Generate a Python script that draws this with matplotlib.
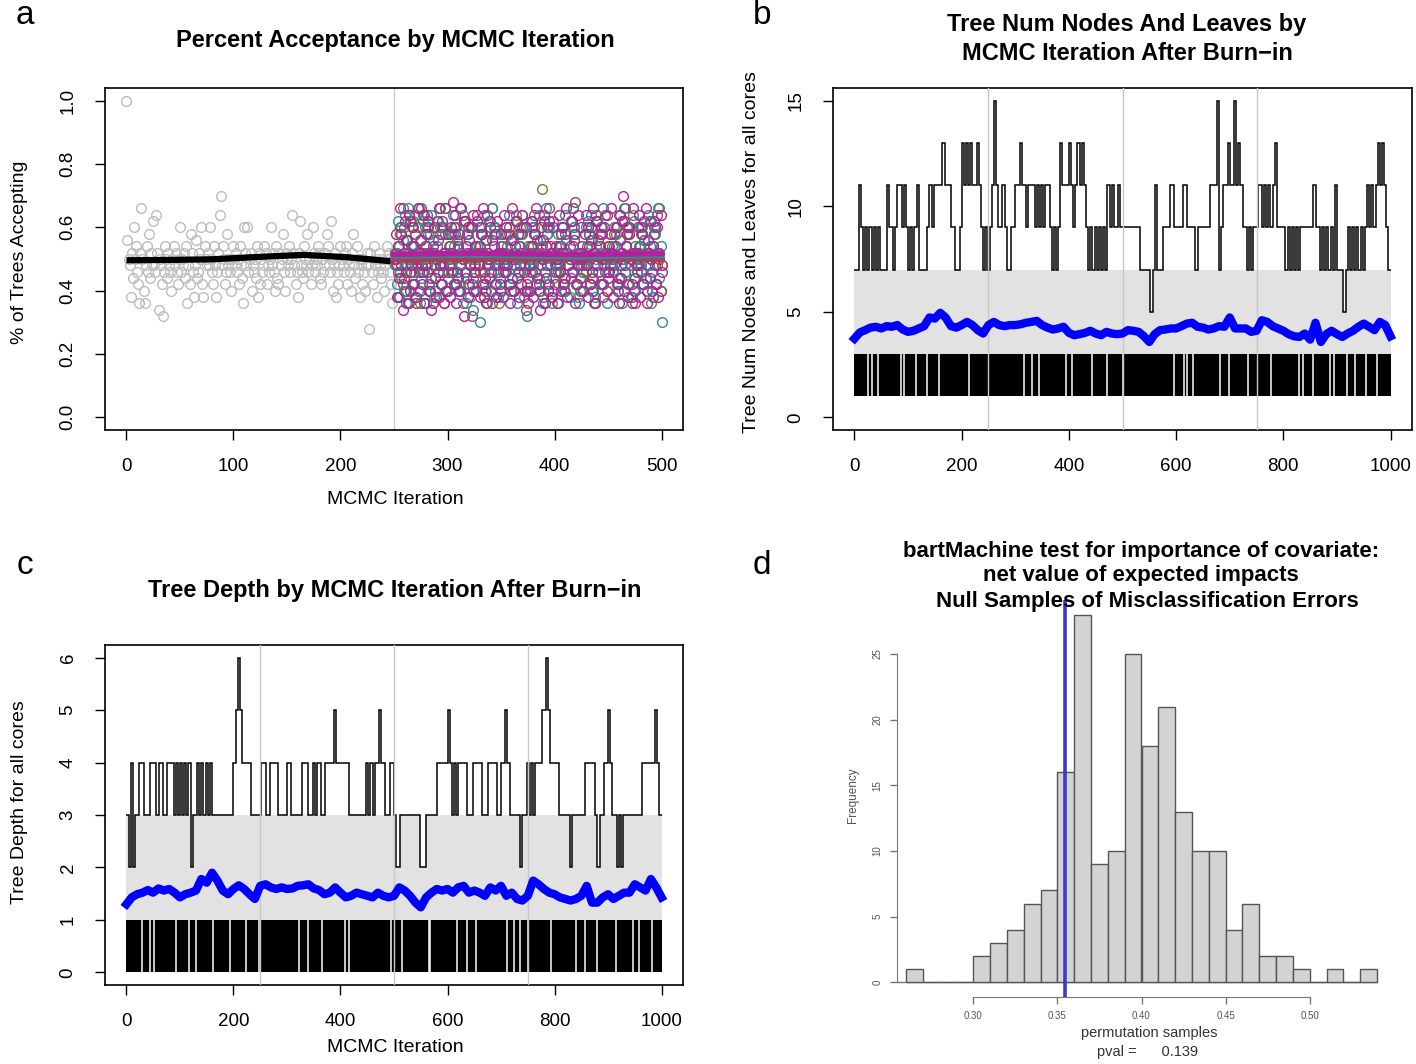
import numpy as np
import matplotlib.pyplot as plt

plt.rcParams['font.family'] = ['Liberation Sans', 'DejaVu Sans']

W, H = 1416, 1064

# ---------------- panel a: percent acceptance ----------------
# letters a..w stand for 0.28 .. 0.72 in steps of 0.02 (one letter per iteration)
LEVELS = "abcdefghijklmnopqrstuvw"
accept_first = 1.0
accept_burn = ("olkfmiqlnjhemtlgeknjpimkr" "kjsmdlkhcjnlimkjglnkmjhlq"
               "jlkminekhpmjfkoijmlqhfnlk" "mkqljhnkfjmsvknlhjpkljgln"
               "kmjlhnkieqmkqjlmgkjlinfmh" "ljknmhkjlqkmjgnihmklpjgml"
               "knjlsmkhjfmrkjinlkpjlhkqm" "jlknmihljkmpnkjrlgkmfjhkn"
               "lkjmnhlkjgmpkinjlfkhljgkm" "kamjhnklfjmkiljgknlmjhel")
accept_olive = ("lkmfnpitqkgolejrknhpsqmek" "jmsnkqphgiemklrjfqhpkmtgi"
                "nkjmplqhoigkmsrjephqkmlgj" "klmnjqphfgomkrljtpqhkmeig"
                "mjlkqnphgiokmsrjnqhpfmlgn" "lknjmqphoigkwlrjnpqhkmeik"
                "jmlnkpqhigomklrjtqphkfmgi" "nkljmqphogiemlrjnpqhkslgj"
                "lmknjqphgiokmlrjnqhpfmsin" "kjmlnpqhoigmkrejnpqhkmtgk")
accept_red = ("mlkjfqphigokmsrjnqhpeklgt" "kjmlnsqhgiemklrjfphqkmtgj"
              "lnkmjqphoigkmlrjnpqhkmcik" "jmsknqphfiokmlrjeqhpkmlgn"
              "nlkjmpqhoigmkrljnphqkmdgi" "kmljnsphigokmfrjnqhtkmlgj"
              "lkjmnpqhgiomklrjnpuhkmlik" "mjlknqphoigkesrjnqphkmlgn"
              "nkmljpqhgiokmlrtnqhpkemgi" "ljkmnqphoigmkrljfpqhsmlgk")
accept_teal = ("kmhrfjqogsektmlnhrjfmgtoi" "lrjqekmhpsofglnrjtkhqeplg"
               "mkpjsnhqigotkelrjnphfmqdg" "jlnqbphmsogelkrjtqphlfkig"
               "nkmpjlshgiomkreljnpsqkmcg" "ljrqkpmhosgkneljtphqkfmrj"
               "kepljnqhgsomkfrjtqphkmelg" "njlqkrphsogkfnrjmqhtklmej"
               "lkpmjnqhgsokeltjnpqhkfmrg" "mjlnqkphoigsknrjfqphmtinb")
accept_magenta = ("lpfnitkdmrjoesgkqhnlftjmo" "hsekpjrgmdnqiflotkhrjemgp"
                  "kfqmuhsejnpgtlcrimfokqhsj" "ngrkfpmtjhesliqgonkfrjmhp"
                  "mfsjqkheotlgnripfkmsjgqhe" "kgnrfpjtmhdqloseikgrnmfqh"
                  "nlesjgmqhptfknirjoelhskmq" "lgpskfnhqjtmerkophlfqjmsi"
                  "jptmfknqhesirvgknpfqlhtme" "mkqsfjphrteomilgnrkhqfmsj")
core_series = [accept_olive, accept_red, accept_teal, accept_magenta]
core_colors = ["#7c7a3c", "#a8404f", "#2f8c98", "#b4209e"]
burn_fit_x = [0, 40, 80, 120, 165, 205, 250]
burn_fit_y = [0.496, 0.497, 0.499, 0.506, 0.513, 0.506, 0.492]
core_fit_x = [250, 330, 420, 500]
core_fit_y = [[0.505, 0.503, 0.507, 0.505], [0.498, 0.500, 0.502, 0.500],
              [0.510, 0.512, 0.508, 0.511], [0.515, 0.518, 0.514, 0.517]]

# ---------------- panel b: nodes and leaves ----------------
# max over trees, one hex digit per 4 iterations
nodes_max = ("77b9797979797" "77b9979bb9b9"
             "7979b77779b9bbbbdbbb99779"
             "dbdbdbbdb97979bfb99b97799"
             "bbdbb9bbb9b9b9bb97979dbbb"
             "db9bdbdb9797979797b9b99b9"
             "9999999977777" "57b777999bb9"
             "999bb99997999999bbbf79bbd"
             "bbfbdb9979799bb9b9b9bd999"
             "97979797999999b997979797b"
             "77757979797979b9b9bdbdb97")
nodes_min_gaps = [26, 33, 44, 86, 93, 115, 136, 157, 214, 317, 331, 345, 394,
                  405, 444, 472, 501, 596, 614, 621, 632, 681, 699, 734, 777,
                  830, 837, 855, 887, 894, 918, 933, 954, 975]
nodes_avg = [3.73, 4.02, 4.13, 4.25, 4.29, 4.21, 4.32, 4.29, 4.37, 4.16,
             4.05, 4.10, 4.21, 4.32, 4.73, 4.68, 4.95, 4.73, 4.32, 4.25,
             4.37, 4.52, 4.37, 4.13, 3.97, 4.37, 4.52, 4.37, 4.32, 4.37,
             4.37, 4.41, 4.48, 4.52, 4.57, 4.37, 4.25, 4.16, 4.21, 4.29,
             4.00, 3.89, 3.94, 4.00, 4.10, 3.97, 3.89, 4.05, 3.97, 3.94,
             3.97, 4.13, 4.10, 4.05, 3.84, 3.57, 3.94, 4.13, 4.16, 4.21,
             4.21, 4.32, 4.44, 4.48, 4.29, 4.25, 4.16, 4.21, 4.32, 4.29,
             4.73, 4.21, 4.21, 4.21, 4.05, 4.10, 4.60, 4.52, 4.32, 4.21,
             4.10, 3.94, 3.84, 3.81, 3.97, 3.68, 4.48, 3.57, 3.94, 4.10,
             3.94, 3.81, 3.97, 4.10, 4.29, 4.44, 4.29, 4.13, 4.52, 4.37,
             3.84]

# ---------------- panel c: tree depth ----------------
depth_max = ("3242" "33" "44" "333" "444" "3" "44" "33" "444343"
             "43434" "2" "33" "4343434" "3333333333"
             "4" "5" "6" "5" "4444" "33333" "44334444" "3333"
             "44" "33333" "444" "33" "434" "433" "4444" "5" "44"
             "4444" "33333333" "434344" "5" "44" "33" "44"
             "3" "22" "333333333" "222" "33333" "44444"
             "5" "43434444" "333" "4444" "333" "4444" "33"
             "44" "5" "4" "33333" "2" "33" "43434" "44" "5" "5" "6" "5" "44"
             "44" "33333" "2" "333333" "44444" "3" "2" "33" "44"
             "5" "4" "33" "2323" "33333333" "444444" "5" "4" "3")
depth_min_gaps = [29, 44, 51, 92, 117, 130, 162, 194, 223, 248, 322, 340, 365,
                  408, 415, 494, 515, 565, 568, 618, 636, 654, 711, 725, 736,
                  750, 793, 840, 857, 879, 914, 947, 957, 982]
depth_avg = [1.30, 1.43, 1.49, 1.52, 1.57, 1.52, 1.60, 1.56, 1.59, 1.52,
             1.43, 1.49, 1.52, 1.56, 1.78, 1.71, 1.90, 1.75, 1.56, 1.49,
             1.59, 1.66, 1.59, 1.49, 1.40, 1.65, 1.68, 1.62, 1.59, 1.62,
             1.59, 1.60, 1.65, 1.66, 1.68, 1.60, 1.57, 1.49, 1.52, 1.62,
             1.52, 1.43, 1.46, 1.52, 1.49, 1.46, 1.43, 1.52, 1.46, 1.43,
             1.46, 1.62, 1.56, 1.46, 1.33, 1.24, 1.43, 1.52, 1.59, 1.56,
             1.59, 1.52, 1.62, 1.65, 1.52, 1.56, 1.52, 1.46, 1.62, 1.56,
             1.65, 1.46, 1.52, 1.40, 1.37, 1.46, 1.75, 1.68, 1.59, 1.52,
             1.49, 1.43, 1.40, 1.37, 1.40, 1.46, 1.65, 1.33, 1.33, 1.43,
             1.49, 1.40, 1.46, 1.52, 1.52, 1.68, 1.62, 1.56, 1.78, 1.62,
             1.43]
core_breaks = [250, 500, 750]

# ---------------- panel d: permutation histogram ----------------
hist_left = 0.26
hist_width = 0.01
hist_counts = [1, 0, 0, 0, 2, 3, 4, 6, 7, 16, 28, 9, 10, 25, 18, 21, 13, 10,
               10, 4, 6, 2, 2, 1, 0, 1, 0, 1]
observed_error = 0.3547
pval = 0.139


fig = plt.figure(figsize=(W / 100, H / 100), dpi=100)


def px_axes(left, top, right, bottom):
    return fig.add_axes([left / W, 1 - bottom / H, (right - left) / W, (bottom - top) / H])


def ftext(x, y, s, **kw):
    kw.setdefault('ha', 'center')
    kw.setdefault('va', 'center')
    fig.text(x / W, 1 - y / H, s, **kw)


def r_axes(ax, xticks, yticks, ylabels):
    ax.set_xticks(xticks)
    ax.set_xticklabels([str(v) for v in xticks])
    ax.set_yticks(yticks)
    ax.set_yticklabels(ylabels, rotation=90, va='center')
    ax.tick_params(direction='out', length=7, width=1, labelsize=13.5, pad=13.5)
    for s in ax.spines.values():
        s.set_linewidth(1.2)


def decode(s):
    return np.array([0.28 + 0.02 * LEVELS.index(c) for c in s])


# ---- a
ax = px_axes(105, 88, 683, 430)
ax.set_xlim(-20, 520)
ax.set_ylim(-0.04, 1.04)
ax.axvline(250, color='#cfcfcf', lw=1, zorder=0)
gx = np.arange(1, len(accept_burn) + 1)
ax.plot(np.r_[0, gx], np.r_[accept_first, decode(accept_burn)], 'o', ms=7,
        mfc='none', mec='#bdbdbd', mew=1)
ax.plot(burn_fit_x, burn_fit_y, color='black', lw=4.5, solid_capstyle='butt')
for s, col in zip(core_series, core_colors):
    cx = np.arange(251, 251 + len(s))
    ax.plot(cx, decode(s), 'o', ms=7, mfc='none', mec=col, mew=1)
for col, fit in zip(core_colors, core_fit_y):
    ax.plot(core_fit_x, fit, color=col, lw=4)
r_axes(ax, [0, 100, 200, 300, 400, 500], [0, 0.2, 0.4, 0.6, 0.8, 1.0],
       ["0.0", "0.2", "0.4", "0.6", "0.8", "1.0"])


def tree_panel(ax, codes, band, block, gaps, avg):
    vals = np.array([int(c, 16) for c in codes], float)
    edges = np.arange(len(vals) + 1) * 4.0
    ax.stairs(np.minimum(vals, band[1]), edges, baseline=band[0], fill=True,
              color='#e2e2e2', zorder=1)
    ax.fill_between([0, 1000], block[0], block[1], color='black', lw=0, zorder=2)
    ax.vlines(gaps, block[0], block[1], color='white', lw=1.1, zorder=2.5)
    ax.stairs(vals, edges, baseline=None, color='black', lw=1.1, zorder=3)
    ax.vlines(core_breaks, -100, 100, color='#c8c8c8', lw=1, zorder=3.5)
    ax.plot(np.arange(len(avg)) * 10, avg, color='#0000ff', lw=6,
            solid_joinstyle='round', zorder=4)
    ax.set_xlim(-40, 1040)


# ---- b
ax = px_axes(833, 88, 1412, 430)
tree_panel(ax, nodes_max, (3, 7), (1, 3), nodes_min_gaps, nodes_avg)
ax.set_ylim(-0.6, 15.6)
r_axes(ax, [0, 200, 400, 600, 800, 1000], [0, 5, 10, 15], ["0", "5", "10", "15"])

# ---- c
ax = px_axes(105, 645, 683, 985)
tree_panel(ax, depth_max, (1, 3), (0, 1), depth_min_gaps, depth_avg)
ax.set_ylim(-0.24, 6.24)
r_axes(ax, [0, 200, 400, 600, 800, 1000], list(range(7)), [str(v) for v in range(7)])

# ---- d
ax = px_axes(887, 600, 1396, 997)
edges = hist_left + hist_width * np.arange(len(hist_counts) + 1)
ax.bar(edges[:-1], hist_counts, width=hist_width, align='edge',
       color='#d3d3d3', edgecolor='#555555', lw=1, zorder=2)
ax.plot([0.2545, edges[-1]], [0, 0], color='#777777', lw=1, zorder=1)
ax.axvline(observed_error, color='#3b3bc8', lw=2.6, zorder=3)
ax.set_xlim(0.2488, 0.5512)
ax.set_ylim(-1.12, 29.12)
for k in ['top', 'right']:
    ax.spines[k].set_visible(False)
ax.spines['left'].set_position(('data', 0.2545))
ax.spines['left'].set_bounds(0, 25)
ax.spines['bottom'].set_bounds(0.30, 0.50)
for k in ['left', 'bottom']:
    ax.spines[k].set_color('#777777')
ax.set_xticks([0.30, 0.35, 0.40, 0.45, 0.50])
ax.set_xticklabels(["0.30", "0.35", "0.40", "0.45", "0.50"])
ax.set_yticks([0, 5, 10, 15, 20, 25])
ax.set_yticklabels(["0", "5", "10", "15", "20", "25"], rotation=90, va='center')
ax.tick_params(direction='out', length=5, width=1, color='#777777',
               labelsize=7, labelcolor='#555555', pad=5)

# ---- text
ftext(395, 40, "Percent Acceptance by MCMC Iteration", fontsize=17, fontweight='bold')
ftext(1127, 25, "Tree Num Nodes And Leaves by", fontsize=17, fontweight='bold')
ftext(1127, 54, "MCMC Iteration After Burn\u2212in", fontsize=17, fontweight='bold')
ftext(395, 590, "Tree Depth by MCMC Iteration After Burn\u2212in", fontsize=17, fontweight='bold')
ftext(1141, 551, "bartMachine test for importance of covariate:", fontsize=16, fontweight='bold')
ftext(1141, 576, "net value of expected impacts", fontsize=16, fontweight='bold')
ftext(1147, 601, "Null Samples of Misclassification Errors", fontsize=16, fontweight='bold')

ftext(395, 500, "MCMC Iteration", fontsize=14)
ftext(20, 252, "% of Trees Accepting", fontsize=14, rotation=90)
ftext(752, 252, "Tree Num Nodes and Leaves for all cores", fontsize=14, rotation=90)
ftext(20, 802, "Tree Depth for all cores", fontsize=14, rotation=90)
ftext(395, 1048, "MCMC Iteration", fontsize=14)

ftext(853, 795, "Frequency", fontsize=8.5, rotation=90, color='#555555')
ftext(1149, 1033, "permutation samples", fontsize=10.5, color='#333333')
ftext(1148, 1052, "pval =      %.3f" % pval, fontsize=10.5, color='#333333')

ftext(25, 15, "a", fontsize=24)
ftext(762, 15, "b", fontsize=24)
ftext(25, 566, "c", fontsize=24)
ftext(762, 566, "d", fontsize=24)

fig.savefig("out.png", dpi=100)
